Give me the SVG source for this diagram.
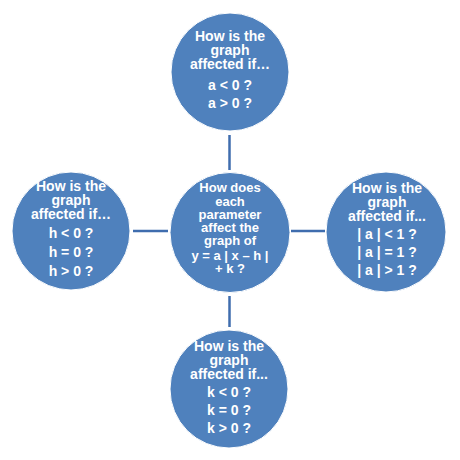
<svg xmlns="http://www.w3.org/2000/svg" width="460" height="460" viewBox="0 0 460 460">
<style>
.c{fill:#4F81BD;stroke:#ffffff;stroke-width:1}
.t{font-family:"Liberation Sans",Arial,sans-serif;font-weight:bold;font-size:14px;fill:#ffffff;text-anchor:middle}
.s{font-size:13px}
.l{stroke:#3F6DAE;stroke-width:2.5;fill:none}
</style>
<rect width="460" height="460" fill="#ffffff"/>
<g id="connectors">
<line class="l" x1="229.5" y1="135" x2="229.5" y2="170"/>
<line class="l" x1="229.5" y1="296" x2="229.5" y2="327"/>
<line class="l" x1="133" y1="231" x2="168" y2="231"/>
<line class="l" x1="291" y1="231" x2="325" y2="231"/>
</g>
<g id="center">
<circle class="c" cx="230" cy="232.5" r="60"/>
<text class="t s" x="230"><tspan x="230" y="192">How does</tspan><tspan x="230" y="205.5">each</tspan><tspan x="230" y="219">parameter</tspan><tspan x="230" y="232">affect the</tspan><tspan x="230" y="245">graph of</tspan><tspan x="230" y="260">y = a | x – h |</tspan><tspan x="230" y="273">+ k ?</tspan></text>
</g>
<g id="top">
<circle class="c" cx="230" cy="72" r="59"/>
<text class="t"><tspan x="230" y="41">How is the</tspan><tspan x="230" y="55">graph</tspan><tspan x="230" y="69">affected if…</tspan><tspan x="230" y="90">a &lt; 0 ?</tspan><tspan x="230" y="108">a &gt; 0 ?</tspan></text>
</g>
<g id="left">
<circle class="c" cx="71" cy="231" r="59"/>
<text class="t"><tspan x="71" y="191">How is the</tspan><tspan x="71" y="205">graph</tspan><tspan x="71" y="219">affected if…</tspan><tspan x="71" y="238">h &lt; 0 ?</tspan><tspan x="71" y="257">h = 0 ?</tspan><tspan x="71" y="276">h &gt; 0 ?</tspan></text>
</g>
<g id="right">
<circle class="c" cx="386" cy="232" r="60"/>
<text class="t"><tspan x="387" y="193">How is the</tspan><tspan x="387" y="207">graph</tspan><tspan x="387" y="221">affected if...</tspan><tspan x="387" y="239">| a | &lt; 1 ?</tspan><tspan x="387" y="257">| a | = 1 ?</tspan><tspan x="387" y="275">| a | &gt; 1 ?</tspan></text>
</g>
<g id="bottom">
<circle class="c" cx="229" cy="389" r="59"/>
<text class="t"><tspan x="229" y="351">How is the</tspan><tspan x="229" y="365">graph</tspan><tspan x="229" y="379">affected if...</tspan><tspan x="229" y="397">k &lt; 0 ?</tspan><tspan x="229" y="415">k = 0 ?</tspan><tspan x="229" y="433">k &gt; 0 ?</tspan></text>
</g>
</svg>
